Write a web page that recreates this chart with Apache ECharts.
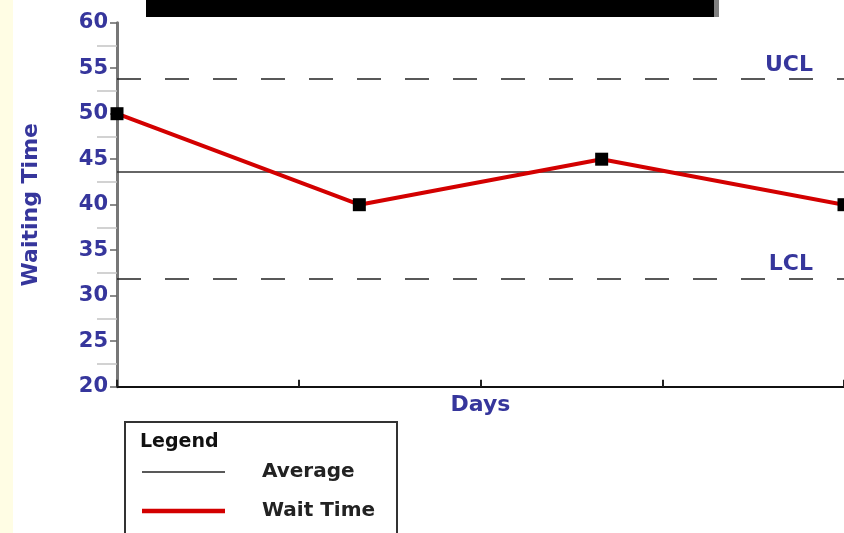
<!DOCTYPE html>
<html>
<head>
<meta charset="utf-8">
<script src="https://cdn.jsdelivr.net/npm/echarts@6/dist/echarts.min.js"></script>
<style>
html,body{margin:0;padding:0;background:#fff;}
#c{width:844px;height:533px;}
</style>
</head>
<body>
<div id="c"></div>
<script>
// ---- data ----
const days = [0, 4, 8, 12];
const waitTime = [50, 40, 45, 40];
const averageValue = 43.6;
const uclValue = 53.8;
const lclValue = 31.9;
const yMin = 20, yMax = 60, yStep = 5;
const xMin = 0, xMax = 12, xStep = 3;
const legendNames = ['Average', 'Wait Time'];

const BLUE = '#36369c';
const FONT = 'DejaVu Sans';

const chart = echarts.init(document.getElementById('c'), null, {renderer: 'canvas'});

const waitData = days.map((d, i) => [d, waitTime[i]]);
const avgData = [[xMin, averageValue], [xMax, averageValue]];

chart.setOption({
  backgroundColor: '#ffffff',
  animation: false,
  grid: {left: 117, right: -4, top: 22.7, bottom: 146.3, containLabel: false},
  xAxis: {
    type: 'value', min: xMin, max: xMax, interval: xStep,
    name: 'Days', nameLocation: 'middle', nameGap: 8,
    nameTextStyle: {color: BLUE, fontFamily: FONT, fontWeight: 'bold', fontSize: 22},
    axisLine: {show: true, lineStyle: {color: '#111', width: 2}},
    axisTick: {show: true, inside: true, length: 7, lineStyle: {color: '#222', width: 2}},
    axisLabel: {show: false},
    splitLine: {show: false}
  },
  yAxis: {
    type: 'value', min: yMin, max: yMax, interval: yStep,
    name: 'Waiting Time', nameLocation: 'middle', nameGap: 75, nameRotate: 90,
    nameTextStyle: {color: BLUE, fontFamily: FONT, fontWeight: 'bold', fontSize: 22},
    axisLine: {show: true, lineStyle: {color: '#777', width: 3}},
    axisTick: {show: true, length: 7, lineStyle: {color: '#666', width: 1.5}},
    minorTick: {show: true, splitNumber: 2, length: 20, lineStyle: {color: '#c4c4c4', width: 1.5}},
    axisLabel: {color: BLUE, fontFamily: FONT, fontWeight: 'bold', fontSize: 21, margin: 9},
    splitLine: {show: false}
  },
  legend: {
    orient: 'vertical', left: 142, top: 462, padding: 0,
    itemWidth: 83, itemHeight: 20, itemGap: 19,
    selectedMode: false,
    textStyle: {color: '#222', fontFamily: FONT, fontWeight: 'bold', fontSize: 20, padding: [0, 0, 0, 32]},
    data: [
      {name: legendNames[0], icon: 'path://M0,0H83V1.6H0Z', itemStyle: {color: '#222', borderWidth: 0}},
      {name: legendNames[1], icon: 'path://M0,0H83V4.6H0Z', itemStyle: {color: '#d30000', borderWidth: 0}}
    ]
  },
  graphic: [
    {type: 'rect', z: -10, shape: {x: 0, y: 0, width: 13, height: 533}, style: {fill: '#fffde4'}},
    {type: 'rect', z: 100, shape: {x: 146, y: 0, width: 568, height: 17}, style: {fill: '#000'}},
    {type: 'rect', z: 100, shape: {x: 714, y: 0, width: 5, height: 17}, style: {fill: '#808080'}},
    {type: 'rect', z: 0, shape: {x: 125, y: 422, width: 272, height: 130}, style: {fill: '#fff', stroke: '#333', lineWidth: 2}},
    {type: 'text', z: 1, left: 140, top: 433, style: {text: 'Legend', fill: '#111', font: 'bold 19px "DejaVu Sans"'}}
  ],
  series: [
    {
      name: legendNames[0], type: 'line', data: avgData,
      symbol: 'none', z: 2,
      lineStyle: {color: '#333', width: 1.6},
      itemStyle: {color: '#222'},
      markLine: {
        silent: true, symbol: 'none',
        lineStyle: {color: '#222', width: 1.6, type: [24, 24]},
        label: {
          show: true, position: 'insideEndTop', distance: [31, 3],
          color: BLUE, fontFamily: FONT, fontWeight: 'bold', fontSize: 22,
          formatter: p => p.name
        },
        data: [
          {name: 'UCL', yAxis: uclValue},
          {name: 'LCL', yAxis: lclValue}
        ]
      }
    },
    {
      name: legendNames[1], type: 'line', data: waitData, z: 3,
      symbol: 'rect', symbolSize: 13,
      itemStyle: {color: '#000'},
      lineStyle: {color: '#d30000', width: 4}
    }
  ]
});
</script>
</body>
</html>
